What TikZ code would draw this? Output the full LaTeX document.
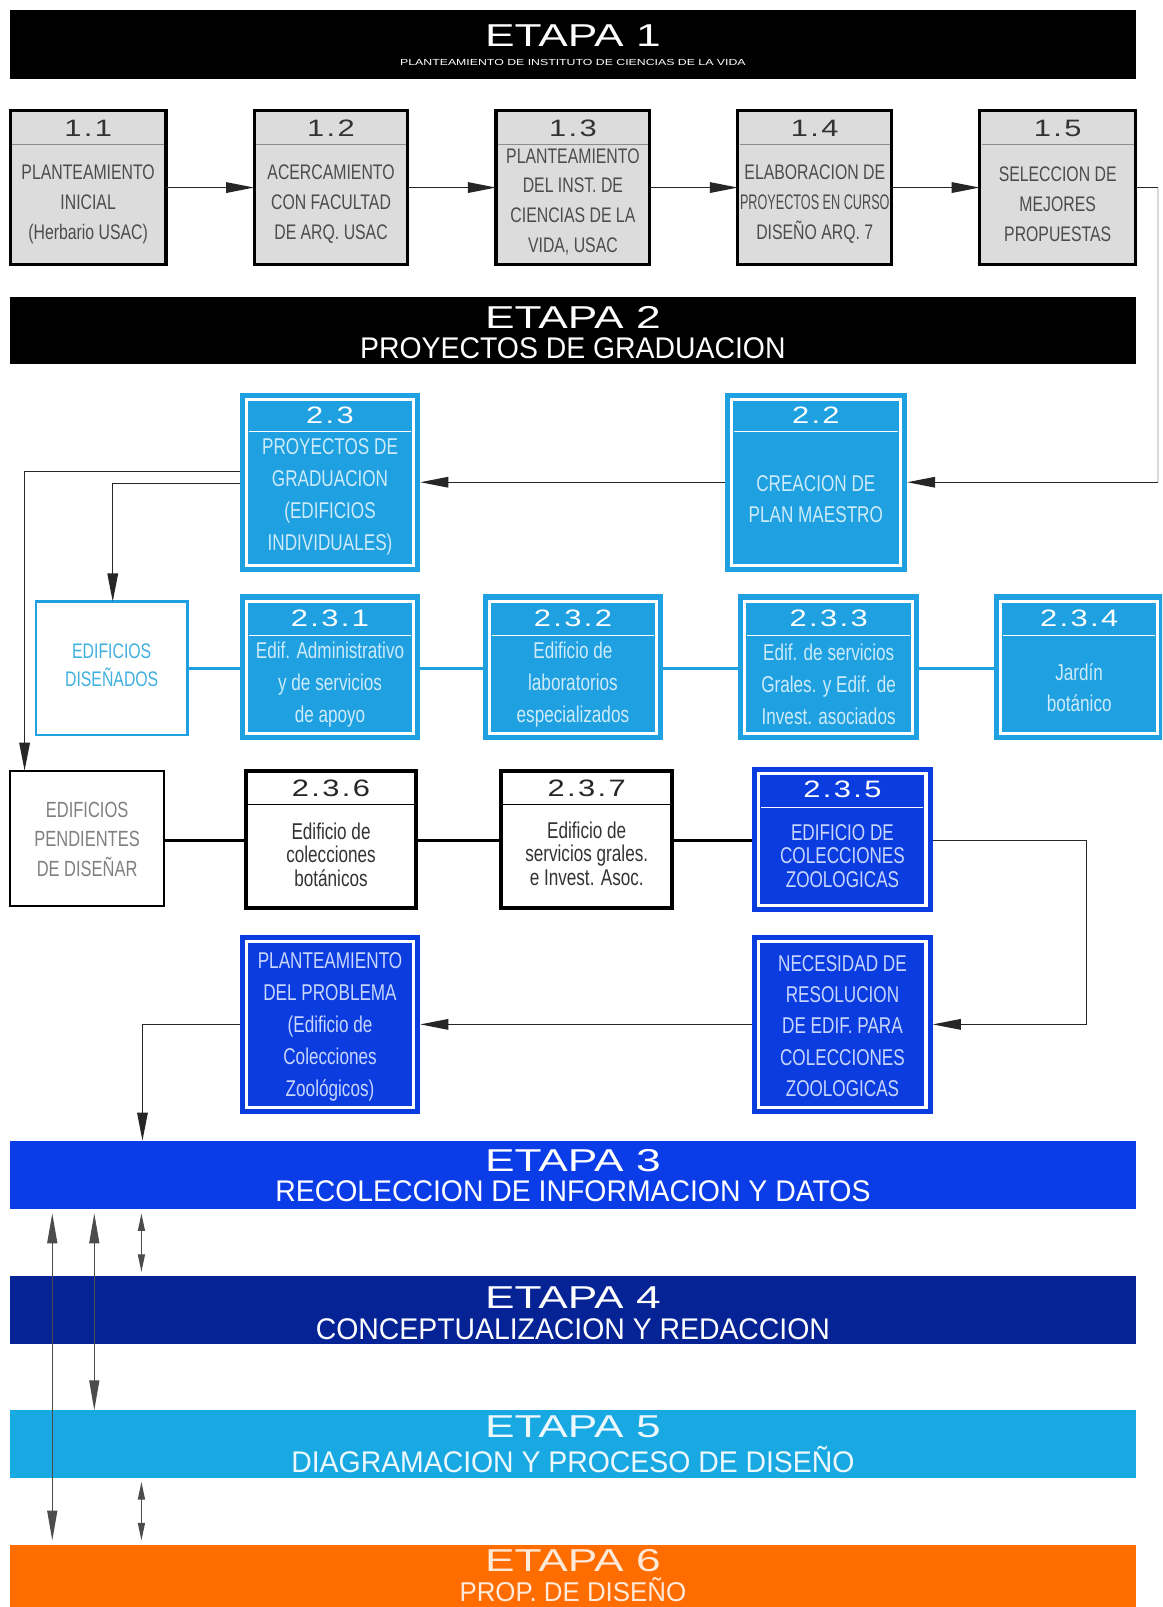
\documentclass[tikz,border=0pt]{standalone}
\usepackage{fontspec}
\setmainfont{Liberation Sans}
\newfontfamily\widefont[FakeStretch=1.4]{Liberation Sans}
\newfontfamily\numfont[FakeStretch=1.3,LetterSpace=10]{Liberation Sans}
\newfontfamily\subfont[FakeStretch=0.95]{Liberation Sans}
\newfontfamily\condfont[FakeStretch=0.75]{Liberation Sans}
\usetikzlibrary{arrows.meta,calc}

\definecolor{boxgray}{HTML}{DCDCDC}
\definecolor{boxcyan}{HTML}{1EA0E1}
\definecolor{boxblue}{HTML}{0A3CE0}
\definecolor{etblue}{HTML}{0A3CE8}
\definecolor{etnavy}{HTML}{062396}
\definecolor{etcyan}{HTML}{19A9E2}
\definecolor{etorange}{HTML}{FF6C00}
\definecolor{txtcyan}{HTML}{CDEBFA}
\definecolor{txtblue}{HTML}{C8D6FF}
\definecolor{txtdone}{HTML}{40B0E0}

% plain block: style, name, x1, y1, x2, y2 (outer corners)
\newcommand\blk[6]{\node[#1,anchor=north west,minimum width={(#5-#3)*0.0205cm},minimum height={(#6-#4)*0.0205cm}] (#2) at (#3,#4) {};}
% block with double frame: the frame is drawn inside the given corners
\newcommand\dblk[6]{\node[#1,anchor=north west,minimum width={(#5-#3-13)*0.0205cm},minimum height={(#6-#4-13)*0.0205cm}] (#2) at (#3,#4) {};}

\tikzset{
  every node/.style={inner sep=0pt,outer sep=0pt},
  graybox/.style={fill=boxgray,draw=black,line width=1.8pt},
  blackbox/.style={fill=white,draw=black,line width=2.2pt},
  cyanbox/.style={fill=boxcyan,draw=boxcyan,double=white,double distance=1.75pt,line width=2.9pt,outer sep=3.8pt},
  bluebox/.style={fill=boxblue,draw=boxblue,double=white,double distance=1.75pt,line width=2.9pt,outer sep=3.8pt},
  doneframe/.style={fill=white,draw=boxcyan,line width=1.5pt},
  pendframe/.style={fill=white,draw=black,line width=1.3pt},
  hdrgray/.style={draw=black!45,line width=0.8pt},
  hdrwhite/.style={draw=white,line width=0.7pt},
  hdrblack/.style={draw=black,line width=0.8pt},
  flow/.style={draw=black!85,line width=0.8pt},
  arr/.style={flow,-{Triangle[length=16pt,width=6pt]}},
  faint/.style={draw=black!15,line width=0.8pt},
  cyanlink/.style={draw=boxcyan,line width=1.8pt},
  blacklink/.style={draw=black,line width=1.8pt},
  vline/.style={draw=black!70,line width=0.7pt},
  bigtips/.style={{Triangle[length=17pt,width=5.7pt]}-{Triangle[length=17pt,width=5.7pt]}},
  smalltips/.style={{Triangle[length=10pt,width=4pt]}-{Triangle[length=10pt,width=4pt]}},
  ettitle/.style={font=\widefont\fontsize{18}{20}\selectfont,text=white},
  etsub/.style={font=\subfont\fontsize{17}{19}\selectfont,text=white},
  etsmall/.style={font=\widefont\fontsize{5}{6}\selectfont,text=white},
  num/.style={font=\numfont\fontsize{13.5}{15}\selectfont},
  bodyA/.style={align=center,font=\condfont\fontsize{12}{17}\selectfont},
  bodyB/.style={align=center,font=\condfont\fontsize{13}{18.2}\selectfont},
  bodyC/.style={align=center,font=\condfont\fontsize{13}{13.4}\selectfont},
}

\begin{document}
\begin{tikzpicture}[x=0.0205cm,y=-0.0205cm]
\clip (0,0) rectangle (1134,1568);
\fill[white] (0,0) rectangle (1134,1568);

% ---------- stage bars ----------
\blk{fill=black}{e1}{10}{10}{1108}{77}
\blk{fill=black}{e2}{10}{290}{1108}{355}
\blk{fill=etblue}{e3}{10}{1113}{1108}{1180}
\blk{fill=etnavy}{e4}{10}{1245}{1108}{1311}
\blk{fill=etcyan}{e5}{10}{1376}{1108}{1442}
\blk{fill=etorange}{e6}{10}{1507}{1108}{1590}

\node[ettitle] at ($(e1.north)+(0,25)$) {ETAPA 1};
\node[etsmall] at ($(e1.north)+(0,51)$) {PLANTEAMIENTO DE INSTITUTO DE CIENCIAS DE LA VIDA};
\node[ettitle] at ($(e2.north)+(0,20)$) {ETAPA 2};
\node[etsub] at ($(e2.north)+(0,50)$) {PROYECTOS DE GRADUACION};
\node[ettitle] at ($(e3.north)+(0,19)$) {ETAPA 3};
\node[etsub] at ($(e3.north)+(0,49)$) {RECOLECCION DE INFORMACION Y DATOS};
\node[ettitle] at ($(e4.north)+(0,21)$) {ETAPA 4};
\node[etsub] at ($(e4.north)+(0,52)$) {CONCEPTUALIZACION Y REDACCION};
\node[ettitle,text=white!92!etcyan] at ($(e5.north)+(0,16)$) {ETAPA 5};
\node[etsub,text=white!92!etcyan] at ($(e5.north)+(0,48)$) {DIAGRAMACION Y PROCESO DE DISEÑO};
\node[ettitle,text=white!85!etorange] at ($(e6.north)+(0,16)$) {ETAPA 6};
\node[etsub,text=white!85!etorange,font=\subfont\fontsize{15.5}{17}\selectfont] at ($(e6.north)+(0,44)$) {PROP. DE DISEÑO};

% ---------- stage 1 boxes ----------
\blk{graybox}{b11}{10}{108}{162}{258}
\blk{graybox}{b12}{248}{108}{398}{258}
\blk{graybox}{b13}{484}{108}{634}{258}
\blk{graybox}{b14}{720}{108}{870}{258}
\blk{graybox}{b15}{956}{108}{1108}{258}
\foreach \b in {b11,b12,b13,b14,b15}
  \draw[hdrgray] ($(\b.north west)+(2,33)$) -- ($(\b.north east)+(-2,33)$);

\node[num,text=black!80] at ($(b11.north)+(0,17)$) {1.1};
\node[num,text=black!80] at ($(b12.north)+(0,17)$) {1.2};
\node[num,text=black!80] at ($(b13.north)+(0,17)$) {1.3};
\node[num,text=black!80] at ($(b14.north)+(0,17)$) {1.4};
\node[num,text=black!80] at ($(b15.north)+(0,17)$) {1.5};
\node[bodyA,text=black!70] at ($(b11.north)+(0,91)$) {PLANTEAMIENTO\\INICIAL\\(Herbario USAC)};
\node[bodyA,text=black!70] at ($(b12.north)+(0,91)$) {ACERCAMIENTO\\CON FACULTAD\\DE ARQ. USAC};
\node[bodyA,text=black!70] at ($(b13.north)+(0,89)$) {PLANTEAMIENTO\\DEL INST. DE\\CIENCIAS DE LA\\VIDA, USAC};
\node[bodyA,text=black!70] at ($(b14.north)+(0,91)$) {ELABORACION DE\\\scalebox{0.8}[1]{PROYECTOS EN CURSO}\\DISEÑO ARQ. 7};
\node[bodyA,text=black!70] at ($(b15.north)+(0,91)$) {SELECCION DE\\MEJORES\\PROPUESTAS};

% ---------- stage 2 boxes ----------
\dblk{cyanbox}{b23}{234}{383}{410}{558}
\dblk{cyanbox}{b22}{707}{383}{885}{558}
\blk{doneframe}{dis}{35}{587}{183}{717}
\dblk{cyanbox}{b231}{234}{580}{410}{722}
\dblk{cyanbox}{b232}{471}{580}{647}{722}
\dblk{cyanbox}{b233}{720}{580}{897}{722}
\dblk{cyanbox}{b234}{970}{580}{1136}{722}
\blk{pendframe}{pend}{10}{752}{160}{884}
\blk{blackbox}{b236}{240}{752}{406}{886}
\blk{blackbox}{b237}{489}{752}{656}{886}
\dblk{bluebox}{b235}{734}{748}{910}{890}
\dblk{bluebox}{nec}{734}{912}{910}{1087}
\dblk{bluebox}{plant}{234}{912}{410}{1087}

\foreach \b in {b23,b22}
  \draw[hdrwhite] ($(\b.north west)+(9,38)$) -- ($(\b.north east)+(-9,38)$);
\foreach \b in {b231,b232,b233,b234,b235}
  \draw[hdrwhite] ($(\b.north west)+(9,40)$) -- ($(\b.north east)+(-9,40)$);
\foreach \b in {b236,b237}
  \draw[hdrblack] ($(\b.north west)+(2,33)$) -- ($(\b.north east)+(-2,33)$);

% ---------- connectors ----------
\draw[arr] (b11.east) -- (b12.west);
\draw[arr] (b12.east) -- (b13.west);
\draw[arr] (b13.east) -- (b14.west);
\draw[arr] (b14.east) -- (b15.west);
\coordinate (rc) at (1130,0);
\draw[flow] (b15.east) -- (b15.east -| rc);
\draw[faint] (b15.east -| rc) -- (b22.east -| rc);
\draw[arr] (b22.east -| rc) -- (b22.east);
\draw[arr] (b22.west) -- (b23.east);

\coordinate (c1) at (24,460);
\coordinate (c2) at (110,472);
\draw[arr] (b23.west |- c1) -- (c1) -- (c1 |- pend.north);
\draw[arr] (b23.west |- c2) -- (c2) -- (c2 |- dis.north);

\coordinate (cy) at (0,652);
\draw[cyanlink] (dis.east |- cy) -- (b231.west |- cy);
\draw[cyanlink] (b231.east |- cy) -- (b232.west |- cy);
\draw[cyanlink] (b232.east |- cy) -- (b233.west |- cy);
\draw[cyanlink] (b233.east |- cy) -- (b234.west |- cy);

\coordinate (by) at (0,820);
\draw[blacklink] (pend.east |- by) -- (b236.west |- by);
\draw[blacklink] (b236.east |- by) -- (b237.west |- by);
\draw[blacklink] (b237.east |- by) -- (b235.west |- by);

\coordinate (c3) at (1060,0);
\draw[arr] (b235.east |- by) -- (c3 |- by) -- (c3 |- nec.east) -- (nec.east);
\draw[arr] (nec.west) -- (plant.east);
\coordinate (c4) at (139,0);
\draw[arr] (plant.west) -- (plant.west -| c4) -- (c4 |- e3.north);

% stage links at the bottom
\coordinate (v1) at (51,0);
\coordinate (v2) at (92,0);
\coordinate (v3) at (138,0);
\draw[vline,bigtips,shorten <=2.3pt,shorten >=2.3pt] (e3.south -| v1) -- (e6.north -| v1);
\draw[vline,bigtips,shorten <=2.3pt] (e3.south -| v2) -- (e5.north -| v2);
\draw[vline,smalltips,shorten <=2.3pt,shorten >=2.3pt] (e3.south -| v3) -- (e4.north -| v3);
\draw[vline,smalltips,shorten <=2.3pt,shorten >=2.3pt] (e5.south -| v3) -- (e6.north -| v3);

% ---------- texts of stage 2 boxes ----------
\node[num,text=white] at ($(b23.north)+(0,22)$) {2.3};
\node[bodyB,text=txtcyan] at ($(b23.north)+(0,102)$) {PROYECTOS DE\\GRADUACION\\(EDIFICIOS\\INDIVIDUALES)};
\node[num,text=white] at ($(b22.north)+(0,22)$) {2.2};
\node[bodyB,text=txtcyan,font=\condfont\fontsize{13}{17.5}\selectfont] at ($(b22.north)+(0,104)$) {CREACION DE\\PLAN MAESTRO};

\node[bodyA,text=txtdone,font=\condfont\fontsize{12}{16.3}\selectfont] at ($(dis.north)+(0,62)$) {EDIFICIOS\\DISEÑADOS};
\node[num,text=white] at ($(b231.north)+(0,23)$) {2.3.1};
\node[bodyB,text=txtcyan] at ($(b231.north)+(0,88)$) {Edif. Administrativo\\y de servicios\\de apoyo};
\node[num,text=white] at ($(b232.north)+(0,23)$) {2.3.2};
\node[bodyB,text=txtcyan] at ($(b232.north)+(0,88)$) {Edificio de\\laboratorios\\especializados};
\node[num,text=white] at ($(b233.north)+(0,23)$) {2.3.3};
\node[bodyB,text=txtcyan] at ($(b233.north)+(0,88)$) {Edif. de servicios\\Grales. y Edif. de\\Invest. asociados};
\node[num,text=white] at ($(b234.north)+(0,23)$) {2.3.4};
\node[bodyB,text=txtcyan,font=\condfont\fontsize{13}{17.5}\selectfont] at ($(b234.north)+(0,91)$) {Jardín\\botánico};

\node[bodyA,text=black!50,font=\condfont\fontsize{12.5}{16.6}\selectfont] at ($(pend.north)+(0,67)$) {EDIFICIOS\\PENDIENTES\\DE DISEÑAR};
\node[num,text=black!85] at ($(b236.north)+(0,17)$) {2.3.6};
\node[bodyC,text=black!80] at ($(b236.north)+(0,82)$) {Edificio de\\colecciones\\botánicos};
\node[num,text=black!85] at ($(b237.north)+(0,17)$) {2.3.7};
\node[bodyC,text=black!80] at ($(b237.north)+(0,81)$) {Edificio de\\servicios grales.\\e Invest. Asoc.};
\node[num,text=white] at ($(b235.north)+(0,22)$) {2.3.5};
\node[bodyC,text=txtblue] at ($(b235.north)+(0,87)$) {EDIFICIO DE\\COLECCIONES\\ZOOLOGICAS};

\node[bodyB,text=txtblue,font=\condfont\fontsize{13}{17.8}\selectfont] at ($(nec.north)+(0,89)$) {NECESIDAD DE\\RESOLUCION\\DE EDIF. PARA\\COLECCIONES\\ZOOLOGICAS};
\node[bodyB,text=txtblue] at ($(plant.north)+(0,90)$) {PLANTEAMIENTO\\DEL PROBLEMA\\(Edificio de\\Colecciones\\Zoológicos)};

\end{tikzpicture}
\end{document}
